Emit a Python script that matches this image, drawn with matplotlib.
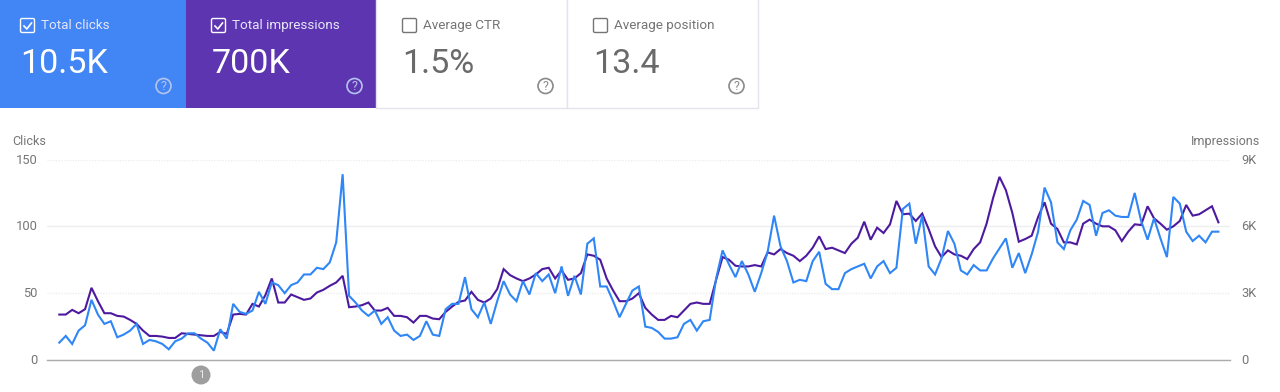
import matplotlib
matplotlib.use("Agg")
import matplotlib.pyplot as plt
from matplotlib.patches import Rectangle, Circle, FancyBboxPatch
from matplotlib.transforms import ScaledTranslation

plt.rcParams['font.family'] = ['Roboto', 'DejaVu Sans']

# clicks per day, left axis
clicks = [13, 18, 12, 22, 26, 45, 34, 27, 29, 17, 19, 22, 27, 12, 15, 14, 12, 8, 14, 16,
          20, 20, 16, 13, 7, 23, 16, 42, 36, 34.5, 37, 51, 42, 58, 56, 50, 56, 58, 64, 64,
          69, 68, 73, 88, 139, 48, 43, 37, 33, 37, 27, 32, 22, 18, 19, 15, 18, 29, 19, 18,
          38, 42, 42, 62, 38, 32, 43, 27, 44, 59, 49, 44, 59, 49, 65, 59, 64, 50, 70, 48,
          63, 49, 87, 91, 55, 55, 44, 32, 42, 52, 55, 25, 24, 21, 16, 16, 17, 27, 30, 22,
          29, 30, 61, 82, 71.5, 62, 74, 64, 51, 65, 81, 108, 85, 74, 58, 60, 59, 74, 81, 57,
          53, 53, 65, 68, 70, 72, 61, 70, 74, 65, 69, 113, 117, 87, 108, 70, 64, 76, 96.5, 87,
          67, 64, 71, 67, 67, 76, 83.5, 91, 69, 80, 65, 79, 96, 129, 118, 88, 83, 97, 105, 119,
          116, 93, 110, 112, 108, 107, 107, 125, 104, 90, 106, 91, 77, 122, 117, 96, 89, 93, 88, 96,
          96]

# impressions per day, right axis
impressions = [2040, 2040, 2250, 2100, 2280, 3240, 2640, 2100, 2100, 1980, 1950, 1800, 1620, 1320, 1080,
               1080, 1050, 990, 990, 1200, 1170, 1140, 1110, 1080, 1080, 1260, 1170, 2040, 2070, 2040,
               2520, 2400, 2910, 3660, 2580, 2580, 2940, 2820, 2700, 2760, 3030, 3150, 3330, 3480, 3780,
               2370, 2400, 2460, 2580, 2220, 2220, 2340, 1980, 1980, 1920, 1680, 1980, 1980, 1860, 1830,
               2160, 2400, 2610, 2670, 3060, 2700, 2580, 2760, 3180, 4080, 3810, 3660, 3540, 3660, 3840,
               4080, 4140, 3660, 4020, 3600, 3660, 3900, 4740, 4680, 4500, 3660, 3120, 2640, 2640, 2760,
               3000, 2340, 2040, 1800, 1800, 1980, 1920, 2220, 2520, 2580, 2520, 2520, 3600, 4620, 4500,
               4230, 4200, 4200, 4260, 4200, 4830, 4740, 4980, 4800, 4680, 4440, 4680, 5040, 5550, 4980,
               5040, 4920, 4800, 5220, 5490, 6210, 5400, 5940, 5700, 6090, 7140, 6540, 6570, 6240, 6570,
               5880, 5100, 4620, 4920, 4740, 4680, 4530, 4980, 5280, 6120, 7260, 8220, 7620, 6600, 5310,
               5430, 5580, 6420, 7080, 6120, 5880, 5280, 5280, 5190, 6120, 6300, 6120, 6000, 6000, 5820,
               5340, 5760, 6090, 6060, 6900, 6360, 6120, 5850, 6000, 6240, 6960, 6480, 6540, 6720, 6900,
               6180]

click_ticks = [0, 50, 100, 150]
click_labels = ['0', '50', '100', '150']
impression_ticks = [0, 3000, 6000, 9000]
impression_labels = ['0', '3K', '6K', '9K']

card_titles = ['Total clicks', 'Total impressions', 'Average CTR', 'Average position']
card_values = ['10.5K', '700K', '1.5%', '13.4']
card_active = [True, True, False, False]

BLUE = '#4285f4'
PURPLE = '#5e35b1'
GREY = '#757575'

W, H = 1280, 392
fig = plt.figure(figsize=(12.8, 3.92), dpi=100)

# main chart, clicks sit on top of impressions
ax = fig.add_axes([47 / W, (H - 360) / H, 1183 / W, 200.5 / H])
days = list(range(len(clicks)))
ax.plot(days, clicks, color='#2f86f6', lw=1.5, solid_joinstyle='miter', zorder=3)
ax.set_xlim(-1.91, 181.8)
ax.set_ylim(0, 150)
ax.set_yticks(click_ticks, click_labels)
ax.set_xticks([])
ax.tick_params(axis='y', length=0, pad=7, labelsize=9.3, labelcolor=GREY)
for s in ['top', 'left', 'right']:
    ax.spines[s].set_visible(False)
ax.spines['bottom'].set_color('#aaaaaa')
ax.spines['bottom'].set_linewidth(1)
ax.patch.set_alpha(0)

ax2 = ax.twinx()
ax2.set_zorder(ax.get_zorder() - 1)
ax2.plot(days, impressions, color='#4d1a9f', lw=1.5, solid_joinstyle='miter')
ax2.set_ylim(0, 9000)
ax2.set_yticks(impression_ticks, impression_labels)
ax2.tick_params(axis='y', length=0, pad=8, labelsize=9.3, labelcolor=GREY)
ax2.grid(axis='y', color='#eeeeee', lw=1)
ax2.set_axisbelow(True)
for s in ax2.spines.values():
    s.set_visible(False)

# 50 and 150 lines are dotted in the original
gl = ax2.get_ygridlines()
gl[1].set_linestyle((0, (1, 1)))
gl[3].set_linestyle((0, (1, 1)))

# labels sit a pixel higher than the gridlines
up = ScaledTranslation(0, 1 / 100, fig.dpi_scale_trans)
for lab in ax.get_yticklabels() + ax2.get_yticklabels():
    lab.set_transform(lab.get_transform() + up)

# overlay in pixels for the cards and the annotation
ov = fig.add_axes([0, 0, 1, 1])
ov.set_xlim(0, W)
ov.set_ylim(H, 0)
ov.axis('off')
ov.patch.set_alpha(0)

ov.text(12, 141, 'Clicks', fontsize=9, color=GREY, va='center', ha='left')
ov.text(1260, 141, 'Impressions', fontsize=9, color=GREY, va='center', ha='right')

ov.add_patch(Circle((201, 375), 9.5, fc='#9e9e9e', ec='none'))
ov.text(201, 375, '1', color='#e8e8e8', fontsize=8, ha='center', va='center')

card_left = [0, 186, 376, 567]
card_right = [186, 376, 567, 758]
card_fill = [BLUE, PURPLE, 'white', 'white']
content_x = [0, 191, 382, 573]

for i in range(4):
    x0, x1 = card_left[i], card_right[i]
    cx = content_x[i]
    on = card_active[i]
    if on:
        ov.add_patch(Rectangle((x0, -2), x1 - x0, 109.5, fc=card_fill[i], ec='none'))
    else:
        ov.add_patch(Rectangle((x0, -2), x1 - x0, 109.5, fc='white', ec='#e3e4ec', lw=1))
    box_col = 'white' if on else '#757575'
    ov.add_patch(FancyBboxPatch((cx + 20.5, 18.5), 14, 14, boxstyle='round,pad=0,rounding_size=1.5',
                                fc='none', ec=box_col, lw=1))
    if on:
        ov.plot([cx + 24, cx + 26.8, cx + 31.5], [26, 29, 23], color='white', lw=1.2)
    ov.text(cx + 41, 25.5, card_titles[i], fontsize=9.7, ha='left', va='center',
            color='#e6e6f8' if on else GREY)
    ov.text(cx + 20.5, 63.5, card_values[i], fontsize=24.6, ha='left', va='center',
            color='white' if on else '#6a6a6a')
    icon_col = '#b5c4ee' if on else '#8a8a8a'
    ov.add_patch(Circle((cx + 163.5, 86), 7.5, fc='none', ec=icon_col, lw=1.2))
    ov.text(cx + 163.5, 86, '?', fontsize=9, ha='center', va='center', color=icon_col)

fig.savefig('out.png', dpi=100)
